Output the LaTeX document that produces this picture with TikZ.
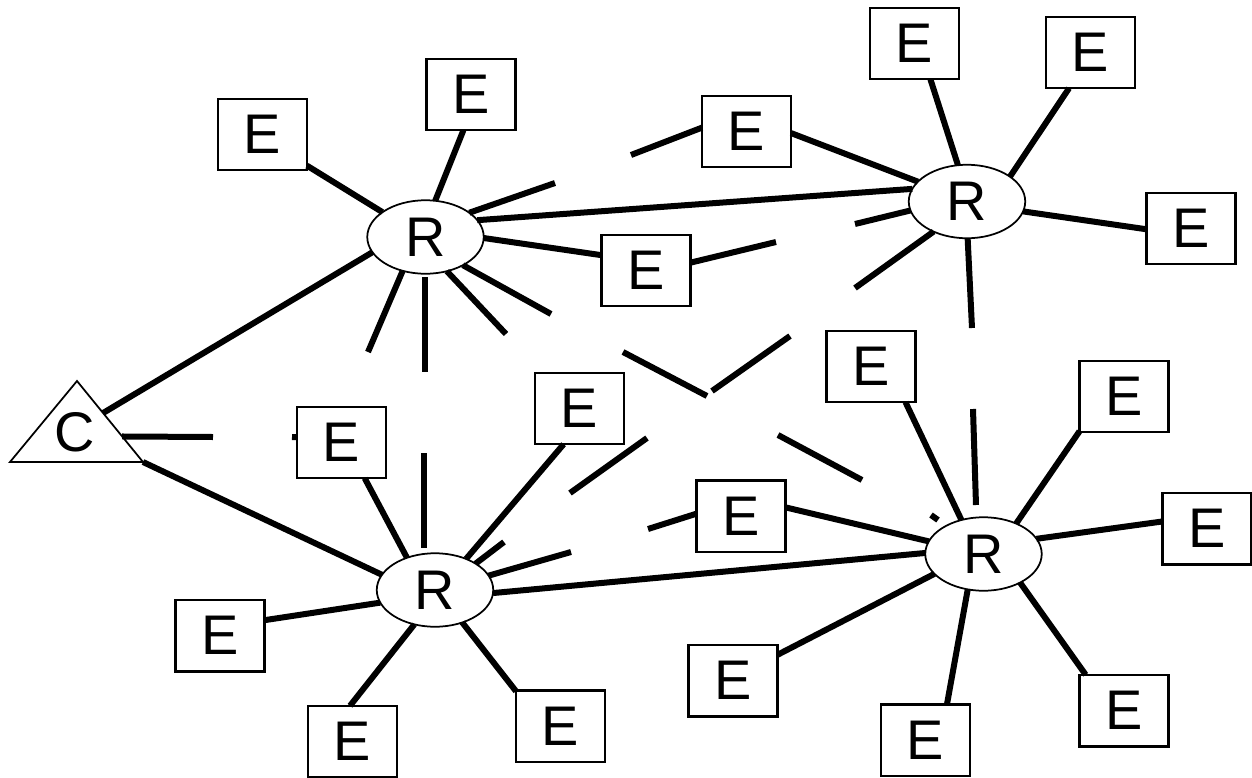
\documentclass[tikz,border=0pt]{standalone}
\usepackage{fontspec}
\setmainfont{Liberation Sans}
\usetikzlibrary{shapes.geometric,calc}
\tikzset{
  ebox/.style={draw, line width=0.05cm, fill=white, rectangle, minimum width=1.78cm, minimum height=1.43cm, inner sep=0pt, outer sep=0pt, font=\fontsize{31.8pt}{38pt}\selectfont},
  rnode/.style={draw, line width=0.035cm, fill=white, ellipse, minimum width=2.33cm, minimum height=1.47cm, inner sep=0pt, outer sep=0pt, font=\fontsize{31.8pt}{38pt}\selectfont},
  cnode/.style={inner sep=0pt, font=\fontsize{31.8pt}{38pt}\selectfont},
  link/.style={line width=0.12cm},
  tri/.style={line width=0.035cm}
}
\newcommand{\Elab}{\raisebox{-0.05cm}{E}}
\begin{document}
\begin{tikzpicture}[x=0.02cm, y=-0.02cm]
\useasboundingbox (0,0) rectangle (1252,778);
% triangle C
\coordinate (Cleft) at (10,462);
\coordinate (Cright) at (143,462);
\coordinate (Ctop) at (77,381);
\draw[tri, fill=white] (Cleft) -- (Cright) -- (Ctop) -- cycle;
\node[cnode] (C) at (74.5,432) {C};
\coordinate (Cp1) at ($(Ctop)!0.395!(Cright)$);
\coordinate (Cp2) at ($(Ctop)!0.685!(Cright)$);
% routers
\node[rnode] (R1) at (425.5,237) {R};
\node[rnode] (R2) at (967,201.5) {R};
\node[rnode] (R3) at (435,590) {R};
\node[rnode] (R4) at (983.5,554) {R};
% end systems
\node[ebox] (Ea) at (262.5,134.5) {\Elab};
\node[ebox] (Eb) at (471,94.5) {\Elab};
\node[ebox] (Ec) at (746.5,131.5) {\Elab};
\node[ebox] (Ed) at (646,270.5) {\Elab};
\node[ebox] (Ee) at (914.5,43.5) {\Elab};
\node[ebox] (Ef) at (1090.5,52.5) {\Elab};
\node[ebox] (Eg) at (1191,228.5) {\Elab};
\node[ebox] (Eh) at (871,366.5) {\Elab};
\node[ebox] (Ei) at (579.5,408.5) {\Elab};
\node[ebox] (Ej) at (341.5,442.5) {\Elab};
\node[ebox] (Ek) at (741,516) {\Elab};
\node[ebox] (El) at (1124,396.5) {\Elab};
\node[ebox] (Em) at (1207,528.5) {\Elab};
\node[ebox] (En) at (220,635.5) {\Elab};
\node[ebox] (Eo) at (352.5,741.5) {\Elab};
\node[ebox] (Ep) at (560.5,726) {\Elab};
\node[ebox] (Eq) at (733,680.5) {\Elab};
\node[ebox] (Er) at (925.5,740) {\Elab};
\node[ebox] (Es) at (1124,710.5) {\Elab};
% free ends
\coordinate (f3) at (555,183);
\coordinate (f6) at (776,242);
\coordinate (f7) at (551,314);
\coordinate (f8) at (506,334);
\coordinate (f9a) at (425,277);
\coordinate (f9b) at (425,372);
\coordinate (f10) at (368,352);
\coordinate (f16) at (631,155);
\coordinate (f17) at (855,224);
\coordinate (f18) at (855,288);
\coordinate (f19) at (972,328);
\coordinate (f20a) at (973,409);
\coordinate (f20b) at (976,505);
\coordinate (f22a) at (931,515);
\coordinate (f22b) at (938,520);
\coordinate (f30) at (648,529);
\coordinate (f33) at (213,437);
\coordinate (f34) at (292,437);
\coordinate (f35a) at (424,453);
\coordinate (f35b) at (424,548);
\coordinate (f37) at (504,542);
\coordinate (f38) at (571,552);
\coordinate (m1a) at (623,352);
\coordinate (m1b) at (707,396);
\coordinate (m2a) at (712,391);
\coordinate (m2b) at (790,336);
\coordinate (m3a) at (570,493);
\coordinate (m3b) at (647,438);
\coordinate (m4a) at (778,435);
\coordinate (m4b) at (862,480);
% R1 links
\draw[link] (Ea.-35) -- (R1.150);
\draw[link] (Eb.-102) -- (R1.75);
\draw[link] (R1.29) -- (f3);
\draw[link] (R1.18) -- (R2.167);
\draw[link] (R1.-1) -- (Ed.161);
\draw[link] (Ed.10.5) -- (f6);
\draw[link] (R1.-37.6) -- (f7);
\draw[link] (R1.-58.4) -- (f8);
\draw[link] (f9a) -- (f9b);
\draw[link] (R1.236.5) -- (f10);
\draw[link] (R1.196) -- (Cp1);
% R2 links
\draw[link] (Ee.-66.4) -- (R2.104);
\draw[link] (Ef.-121.6) -- (R2.30.7);
\draw[link] (R2.-10.3) -- (Eg.181.9);
\draw[link] (Ec.-2) -- (R2.158.7);
\draw[link] (Ec.175.5) -- (f16);
\draw[link] (R2.189) -- (f17);
\draw[link] (R2.222) -- (f18);
\draw[link] (R2.271.5) -- (f19);
% R4 links
\draw[link] (f20a) -- (f20b);
\draw[link] (Eh.-46.2) -- (R4.123.9);
\draw[link] (f22a) -- (f22b);
\draw[link] (R4.43.7) -- (El.218.9);
\draw[link] (R4.16.6) -- (Em.171.6);
\draw[link] (R4.-38.8) -- (Es.137.5);
\draw[link] (R4.246.7) -- (Er.59.2);
\draw[link] (R4.202) -- (Eq.30.1);
\draw[link] (R3.-3) -- (R4.179);
\draw[link] (Ek.11.3) -- (R4.167.8);
\draw[link] (Ek.177.5) -- (f30);
% R3 links
\draw[link] (Ej.-57.2) -- (R3.131.3);
\draw[link] (Cright) -- (R3.164.7);
\draw[link] (Cp2) -- (f33);
\draw[link] (Ej.173) -- (f34);
\draw[link] (f35a) -- (f35b);
\draw[link] (R3.45) -- (Ei.246.2);
\draw[link] (R3.33.7) -- (f37);
\draw[link] (R3.15.5) -- (f38);
\draw[link] (En.19.7) -- (R3.193.8);
\draw[link] (R3.239.7) -- (Eo.94);
\draw[link] (R3.-50.7) -- (Ep.142.8);
% middle fragments
\draw[link] (m1a) -- (m1b);
\draw[link] (m2a) -- (m2b);
\draw[link] (m3a) -- (m3b);
\draw[link] (m4a) -- (m4b);
\end{tikzpicture}
\end{document}
